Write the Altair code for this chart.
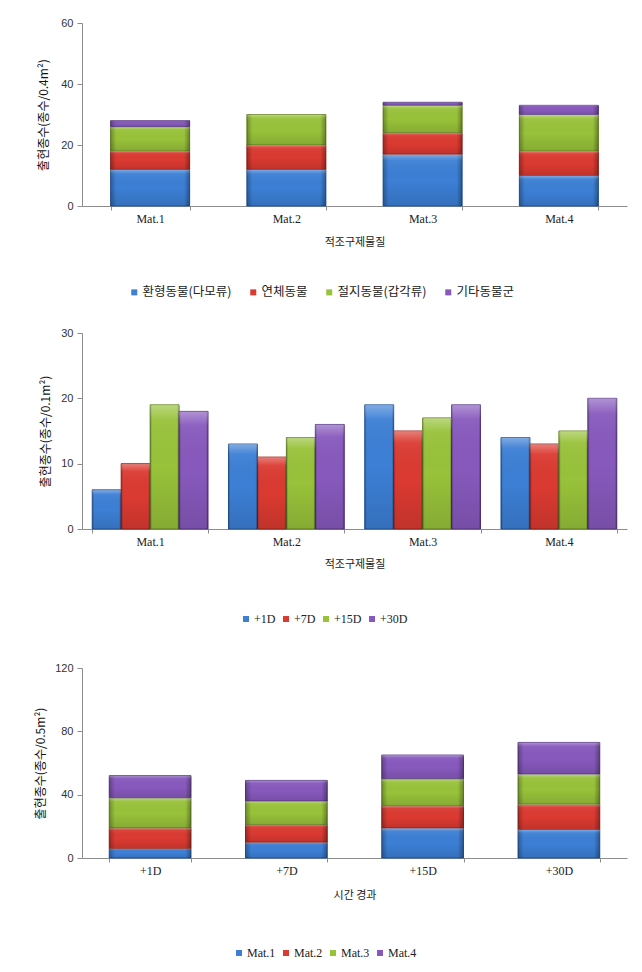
import altair as alt
import pandas as pd

# ---------------- data ----------------
materials = ["Mat.1", "Mat.2", "Mat.3", "Mat.4"]
taxa = ["환형동물(다모류)", "연체동물", "절지동물(갑각류)", "기타동물군"]
annelida = [12, 12, 17, 10]
mollusca = [6, 8, 7, 8]
arthropoda = [8, 10, 9, 12]
others = [2, 0, 1, 3]

days = ["+1D", "+7D", "+15D", "+30D"]
day1 = [6, 13, 19, 14]
day7 = [10, 11, 15, 13]
day15 = [19, 14, 17, 15]
day30 = [18, 16, 19, 20]

fill_colors = ["#3C7FD5", "#DB3A31", "#98C23A", "#8759BD"]
edge_colors = ["#2A5A9C", "#9A2822", "#6A8A28", "#5C3C88"]

rows1 = []
for ti, (t, vals) in enumerate(zip(taxa, [annelida, mollusca, arthropoda, others])):
    for m, v in zip(materials, vals):
        rows1.append({"material": m, "taxon": t, "idx": ti, "value": v})
df1 = pd.DataFrame(rows1)

rows2 = []
for di, (d, vals) in enumerate(zip(days, [day1, day7, day15, day30])):
    for mi, (m, v) in enumerate(zip(materials, vals)):
        rows2.append({"material": m, "day": d, "didx": di, "midx": mi, "value": v})
df2 = pd.DataFrame(rows2)

KO = "Noto Sans CJK KR"
SERIF = "Liberation Serif"
AXC = "#8c8c8c"
W = 545

# bevel-like shading overlays
grad_h = alt.Gradient(
    gradient="linear", x1=0, y1=0, x2=1, y2=0,
    stops=[alt.GradientStop(color="rgba(0,0,0,0.28)", offset=0),
           alt.GradientStop(color="rgba(0,0,0,0)", offset=0.07),
           alt.GradientStop(color="rgba(0,0,0,0)", offset=0.93),
           alt.GradientStop(color="rgba(0,0,0,0.32)", offset=1)])
grad_v = alt.Gradient(
    gradient="linear", x1=0, y1=0, x2=0, y2=1,
    stops=[alt.GradientStop(color="rgba(255,255,255,0.35)", offset=0),
           alt.GradientStop(color="rgba(255,255,255,0.05)", offset=0.12),
           alt.GradientStop(color="rgba(0,0,0,0)", offset=0.5),
           alt.GradientStop(color="rgba(0,0,0,0.12)", offset=1)])


def y_axis(title, values, tx):
    return alt.Axis(title=title, values=values, grid=False, domainColor=AXC,
                    tickColor=AXC, tickSize=5, labelFont="Liberation Sans",
                    labelFontSize=11, labelColor="#333333", labelPadding=4,
                    titleFont=KO, titleFontSize=12, titleFontWeight="normal",
                    titleColor="#111111", titleX=tx, titleBaseline="middle")


def x_axis(title, ty):
    return alt.Axis(title=title, labelAngle=0, tickBand="extent", domainColor=AXC,
                    tickColor=AXC, tickSize=4, labelFont=SERIF, labelFontSize=12,
                    labelColor="#222222", labelPadding=3, titleFont=KO,
                    titleFontSize=11, titleFontWeight="normal", titleColor="#222222",
                    titleY=ty, titleBaseline="middle")


def legend(x, y, font, size, colpad, pad=0):
    return alt.Legend(title=None, orient="none", legendX=x - pad, legendY=y - pad,
                      direction="horizontal", columns=4, symbolType="square",
                      symbolSize=36, symbolStrokeWidth=0, labelFont=font,
                      labelFontSize=size, labelColor="#222222", columnPadding=colpad,
                      labelOffset=2, padding=pad)


def bevel(base, color_enc, stroke_enc):
    solid = base.mark_bar(strokeWidth=1).encode(color=color_enc, stroke=stroke_enc)
    shade_h = base.mark_bar(fill=grad_h, strokeWidth=0)
    shade_v = base.mark_bar(fill=grad_v, strokeWidth=0)
    return alt.layer(solid, shade_h, shade_v)


# ---------------- chart 1 : stacked by taxon ----------------
base1 = alt.Chart(df1).transform_filter("datum.value > 0").encode(
    x=alt.X("material:N", sort=materials,
            scale=alt.Scale(paddingInner=0.42, paddingOuter=0.21),
            axis=x_axis("적조구제물질", 36)),
    y=alt.Y("value:Q", stack="zero", scale=alt.Scale(domain=[0, 60]),
            axis=y_axis("출현종수(종수/0.4m²)", [0, 20, 40, 60], -39)),
    order=alt.Order("idx:Q", sort="ascending"),
)
c1 = bevel(
    base1,
    alt.Color("taxon:N", sort=taxa, scale=alt.Scale(domain=taxa, range=fill_colors),
              legend=legend(46, 263, KO, 12.5, 15)),
    alt.Stroke("taxon:N", scale=alt.Scale(domain=taxa, range=edge_colors), legend=None),
).properties(width=W, height=183)

# ---------------- chart 2 : grouped by day ----------------
base2 = alt.Chart(df2).encode(
    x=alt.X("material:N", sort=materials,
            scale=alt.Scale(paddingInner=0.15, paddingOuter=0.075),
            axis=x_axis("적조구제물질", 35)),
    xOffset=alt.XOffset("day:N", sort=days,
                        scale=alt.Scale(paddingInner=0, paddingOuter=0)),
    y=alt.Y("value:Q", scale=alt.Scale(domain=[0, 30]),
            axis=y_axis("출현종수(종수/0.1m²)", [0, 10, 20, 30], -37)),
)
c2 = bevel(
    base2,
    alt.Color("day:N", sort=days, scale=alt.Scale(domain=days, range=fill_colors),
              legend=legend(158, 280, SERIF, 12, 4, pad=9)),
    alt.Stroke("day:N", scale=alt.Scale(domain=days, range=edge_colors), legend=None),
).properties(width=W, height=196)

# ---------------- chart 3 : stacked by material over time ----------------
base3 = alt.Chart(df2).encode(
    x=alt.X("day:N", sort=days,
            scale=alt.Scale(paddingInner=0.4, paddingOuter=0.2),
            axis=x_axis("시간 경과", 37)),
    y=alt.Y("value:Q", stack="zero", scale=alt.Scale(domain=[0, 120]),
            axis=y_axis("출현종수(종수/0.5m²)", [0, 40, 80, 120], -42)),
    order=alt.Order("midx:Q", sort="ascending"),
)
c3 = bevel(
    base3,
    alt.Color("material:N", sort=materials,
              scale=alt.Scale(domain=materials, range=fill_colors),
              legend=legend(151, 279, SERIF, 12, 4)),
    alt.Stroke("material:N", scale=alt.Scale(domain=materials, range=edge_colors),
               legend=None),
).properties(width=W, height=190)

chart = alt.vconcat(c1, c2, c3, spacing=28).resolve_scale(
    color="independent", stroke="independent", x="independent", y="independent"
).properties(
    padding={"left": 26, "top": 9, "right": 5, "bottom": 5},
    background="white",
).configure_view(stroke=None)

chart.save("out.html", embed_options={"renderer": "svg", "actions": False})
